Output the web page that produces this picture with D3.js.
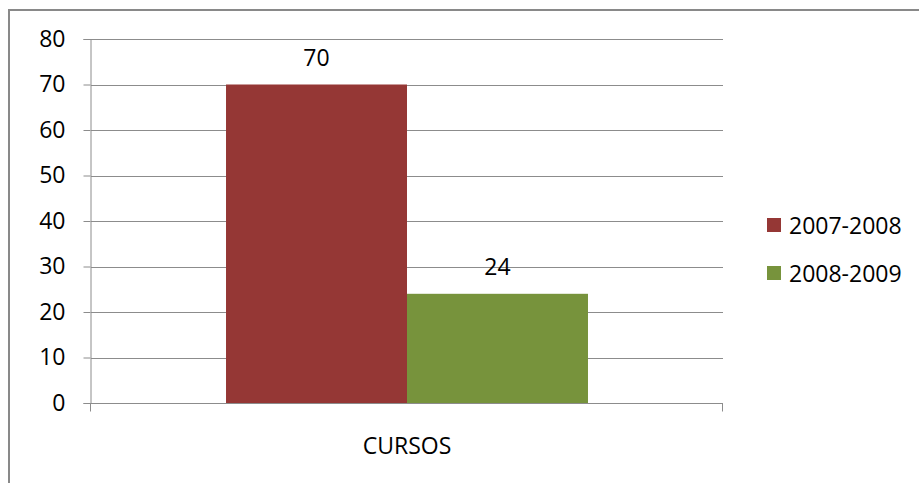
<!DOCTYPE html>
<html>
<head>
<meta charset="utf-8">
<script src="https://cdn.jsdelivr.net/npm/d3@7"></script>
<style>
  html, body { margin: 0; padding: 0; background: #fff; }
  svg text { font-family: "Open Sans", "Liberation Sans", sans-serif; fill: #000; }
</style>
</head>
<body>
<svg id="chart" width="919" height="483"></svg>
<script>
var categories = ['CURSOS'];
var seriesNames = ['2007-2008', '2008-2009'];
var seriesValues = [[70], [24]];
var seriesColors = ['#953735', '#77933C'];
var yTicks = [0, 10, 20, 30, 40, 50, 60, 70, 80];

var svg = d3.select('#chart');
var plot = { left: 91, right: 723, top: 39, bottom: 403 };
var fontSize = '23px';

// outer chart frame (only top and left edges visible)
svg.append('path')
    .attr('d', 'M9,483 V10 H919')
    .attr('fill', 'none')
    .attr('stroke', '#898989')
    .attr('stroke-width', 2);

var x = d3.scaleBand()
    .domain(categories)
    .range([plot.left, plot.right])
    .paddingOuter(0.373);

var x1 = d3.scaleBand()
    .domain(seriesNames)
    .range([0, x.bandwidth()]);

var y = d3.scaleLinear()
    .domain([0, 80])
    .range([plot.bottom, plot.top]);

// gridlines
svg.append('g')
    .selectAll('line')
    .data(yTicks.filter(d => d > 0))
    .join('line')
    .attr('x1', plot.left)
    .attr('x2', plot.right)
    .attr('y1', d => Math.round(y(d)) + 0.5)
    .attr('y2', d => Math.round(y(d)) + 0.5)
    .attr('stroke', '#8c8c8c');

// y axis
var yAxis = svg.append('g')
    .attr('transform', 'translate(' + (plot.left - 0.5) + ',0)')
    .call(d3.axisLeft(y).tickValues(yTicks).tickSize(7).tickPadding(18));
yAxis.select('.domain').attr('stroke', '#8c8c8c');
yAxis.selectAll('.tick line').attr('stroke', '#8c8c8c');
yAxis.selectAll('.tick text')
    .style('font-size', fontSize)
    .attr('fill', '#000');

// bars
var groups = svg.append('g')
    .selectAll('g')
    .data(categories)
    .join('g')
    .attr('transform', d => 'translate(' + x(d) + ',0)');

seriesNames.forEach(function (name, si) {
    var vals = categories.map((c, ci) => ({ c: c, v: seriesValues[si][ci] }));
    groups.data(vals).append('rect')
        .attr('x', x1(name))
        .attr('width', x1.bandwidth())
        .attr('y', d => y(d.v))
        .attr('height', d => y(0) - y(d.v))
        .attr('fill', seriesColors[si]);
    groups.data(vals).append('text')
        .attr('x', x1(name) + x1.bandwidth() / 2)
        .attr('y', d => y(d.v) - 19)
        .attr('text-anchor', 'middle')
        .style('font-size', fontSize)
        .text(d => d.v);
});

// x axis
var xAxis = svg.append('g')
    .attr('transform', 'translate(0,' + (plot.bottom + 0.5) + ')');
xAxis.append('line')
    .attr('x1', plot.left - 0.5).attr('x2', plot.right)
    .attr('stroke', '#8c8c8c');
xAxis.selectAll('.edge')
    .data([plot.left - 0.5, plot.right - 0.5])
    .join('line')
    .attr('x1', d => d).attr('x2', d => d)
    .attr('y1', 0).attr('y2', 8)
    .attr('stroke', '#8c8c8c');
xAxis.selectAll('text')
    .data(categories)
    .join('text')
    .attr('x', d => x(d) + x.bandwidth() / 2)
    .attr('y', 50)
    .attr('text-anchor', 'middle')
    .style('font-size', fontSize)
    .text(d => d);

// legend
var legend = svg.append('g')
    .selectAll('g')
    .data(seriesNames)
    .join('g')
    .attr('transform', (d, i) => 'translate(767,' + (218 + i * 48) + ')');
legend.append('rect')
    .attr('width', 14).attr('height', 14)
    .attr('fill', (d, i) => seriesColors[i]);
legend.append('text')
    .attr('x', 22).attr('y', 16)
    .style('font-size', fontSize)
    .text(d => d);
</script>
</body>
</html>
